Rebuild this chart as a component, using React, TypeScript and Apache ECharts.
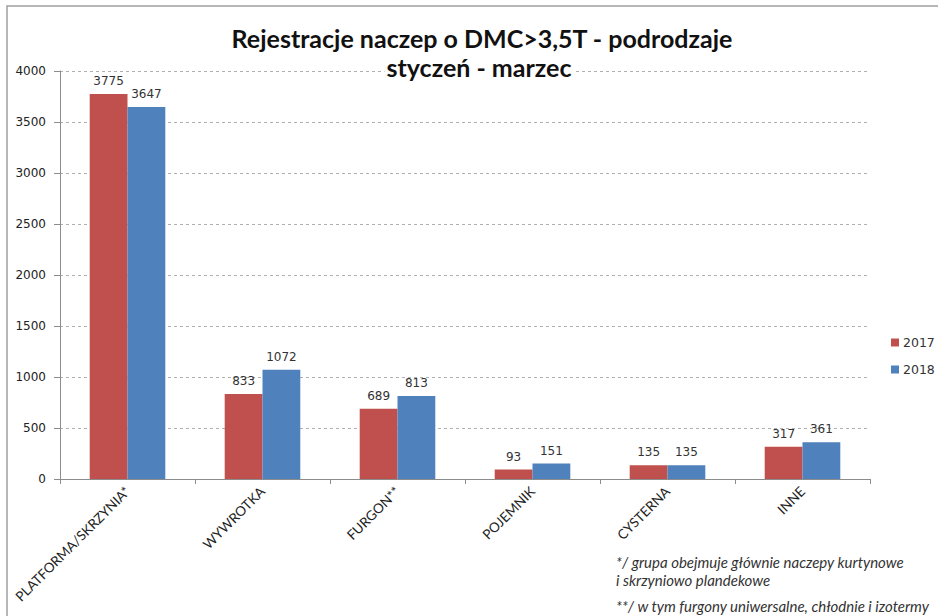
import React, { useEffect, useRef } from "react";
import * as echarts from "echarts";

const categories = ["PLATFORMA/SKRZYNIA*", "WYWROTKA", "FURGON**", "POJEMNIK", "CYSTERNA", "INNE"];
const values2017 = [3775, 833, 689, 93, 135, 317];
const values2018 = [3647, 1072, 813, 151, 135, 361];
const seriesNames = ["2017", "2018"];
const yTicks = { min: 0, max: 4000, interval: 500 };
const titleLines = ["Rejestracje naczep o DMC>3,5T - podrodzaje", "styczeń - marzec"];
const footnotes = [
  "*/ grupa obejmuje głównie naczepy kurtynowe",
  "i skrzyniowo plandekowe",
  "**/ w tym furgony uniwersalne, chłodnie i izotermy",
];

export default function App() {
  const ref = useRef<HTMLDivElement>(null);
  useEffect(() => {
    if (!ref.current) return;
    const chart = echarts.init(ref.current, null, { renderer: "svg" });
    const labelStyle = {
      show: true,
      position: "top",
      distance: 7,
      fontFamily: "DejaVu Sans",
      fontSize: 12,
      color: "#333",
    };
    chart.setOption({
      animation: false,
      backgroundColor: "#fff",
      grid: { left: 60, right: 68, top: 71, bottom: 137, containLabel: false },
      legend: {
        orient: "vertical",
        left: 886,
        top: 331,
        itemWidth: 8,
        itemHeight: 8,
        itemGap: 14,
        icon: "rect",
        textStyle: { fontFamily: "DejaVu Sans", fontSize: 12.5, color: "#333", padding: [0, 0, 0, -1] },
        data: seriesNames,
      },
      xAxis: {
        type: "category",
        data: categories,
        axisLine: { lineStyle: { color: "#8c8c8c" } },
        axisTick: { show: true, alignWithLabel: false, length: 5, lineStyle: { color: "#8c8c8c" } },
        axisLabel: {
          rotate: 45,
          interval: 0,
          margin: 10,
          fontFamily: "Lato",
          fontSize: 13.5,
          color: "#222",
        },
      },
      yAxis: {
        type: "value",
        min: yTicks.min,
        max: yTicks.max,
        interval: yTicks.interval,
        axisLine: { show: true, lineStyle: { color: "#8c8c8c" } },
        axisTick: { show: true, length: 6, lineStyle: { color: "#8c8c8c" } },
        axisLabel: {
          fontFamily: "DejaVu Sans",
          fontSize: 12,
          color: "#222",
          margin: 14,
          formatter: (v: number) => String(v),
        },
        splitLine: { show: true, lineStyle: { color: "#b0b0b0", type: [3, 3] } },
      },
      series: [
        {
          name: seriesNames[0],
          type: "bar",
          data: values2017,
          barGap: "0%",
          barCategoryGap: "44%",
          itemStyle: { color: "#C0504D" },
          label: labelStyle,
        },
        {
          name: seriesNames[1],
          type: "bar",
          data: values2018,
          itemStyle: { color: "#4F81BD" },
          label: labelStyle,
        },
      ],
      graphic: [
        {
          type: "rect",
          shape: { x: 7, y: 6, width: 960, height: 640 },
          style: { fill: "none", stroke: "#a0a0a0", lineWidth: 1.5 },
          silent: true,
          z: -1,
        },
        {
          type: "text",
          x: 482,
          y: 38,
          style: {
            text: titleLines[0],
            fontFamily: "Lato",
            fontWeight: "bold",
            fontSize: 25,
            fill: "#111",
            align: "center",
            verticalAlign: "middle",
          },
        },
        {
          type: "text",
          x: 479,
          y: 67,
          style: {
            text: titleLines[1],
            fontFamily: "Lato",
            fontWeight: "bold",
            fontSize: 25,
            fill: "#111",
            align: "center",
            verticalAlign: "middle",
            backgroundColor: "#fff",
            padding: [0, 2],
          },
          z: 100,
        },
        ...footnotes.map((t, i) => ({
          type: "text",
          x: 616,
          y: [562, 580, 606][i],
          style: {
            text: t,
            fontFamily: "Lato",
            fontStyle: "italic",
            fontSize: 15,
            fill: "#333",
            align: "left",
            verticalAlign: "middle",
          },
        })),
      ],
    });
    return () => chart.dispose();
  }, []);
  return <div ref={ref} style={{ width: 938, height: 616, position: "absolute", left: 0, top: 0 }} />;
}
